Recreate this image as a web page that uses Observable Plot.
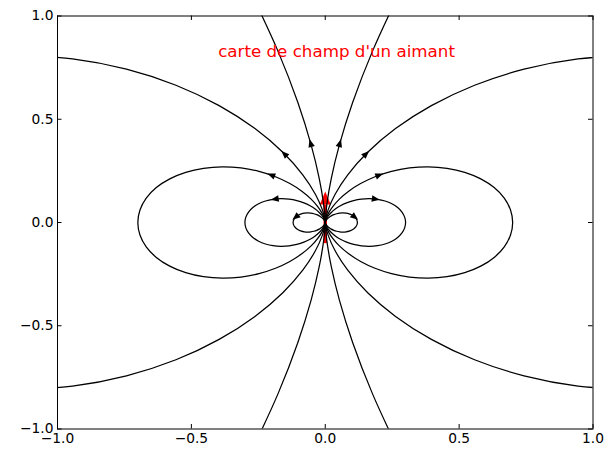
<!DOCTYPE html>
<html><head><meta charset="utf-8">
<script src="https://cdn.jsdelivr.net/npm/d3@7"></script>
<script src="https://cdn.jsdelivr.net/npm/@observablehq/plot@0.6"></script>
<style>html,body{margin:0;padding:0;background:#fff;}</style>
</head><body><div id="chart"></div>
<script>
// ---- data ----
const xTicks = [-1, -0.5, 0, 0.5, 1];
const yTicks = [-1, -0.5, 0, 0.5, 1];
const titleText = "carte de champ d'un aimant";
const titleX = [-0.4];
const titleY = [0.8];
const magnetX = [0, 0];
const magnetY = [-0.1, 0.15];

// field lines: upper-right quarter of each, from the magnet outwards [x, y]
const line1 = [[0,0],[0.0001,0.0009],[0.0006,0.0036],[0.0021,0.0078],[0.0048,0.0132],[0.0091,0.0194],[0.0150,0.0260],[0.0226,0.0323],[0.0319,0.0380],[0.0424,0.0424],[0.0539,0.0453],[0.0660,0.0462],[0.0779,0.0450],[0.0893,0.0417],[0.0996,0.0362],[0.1081,0.0290],[0.1146,0.0202],[0.1186,0.0104],[0.12,0]];
const line2 = [[0,0],[0.0002,0.0023],[0.0016,0.0089],[0.0052,0.0194],[0.0120,0.0330],[0.0226,0.0486],[0.0375,0.0650],[0.0566,0.0808],[0.0797,0.0950],[0.1061,0.1061],[0.1349,0.1132],[0.1649,0.1155],[0.1949,0.1125],[0.2233,0.1041],[0.2489,0.0906],[0.2704,0.0724],[0.2865,0.0505],[0.2966,0.0259],[0.3,0]];
const line3 = [[0,0],[0.0005,0.0053],[0.0037,0.0208],[0.0121,0.0453],[0.0280,0.0769],[0.0528,0.1133],[0.0875,0.1516],[0.1321,0.1886],[0.1859,0.2216],[0.2475,0.2475],[0.3147,0.2640],[0.3848,0.2694],[0.4547,0.2625],[0.5211,0.2430],[0.5808,0.2114],[0.6309,0.1690],[0.6686,0.1179],[0.6920,0.0605],[0.7,0]];
const line4 = [[0,0],[0.0014,0.0159],[0.0110,0.0624],[0.0364,0.1359],[0.0840,0.2308],[0.1585,0.3399],[0.2625,0.4547],[0.3963,0.5659],[0.5577,0.6647],[0.7425,0.7425],[0.9440,0.7921],[1.1543,0.8083]];
const line5 = [[0,0],[0.0008,0.0239],[0.0067,0.0951],[0.0224,0.2130],[0.0528,0.3759],[0.1026,0.5820],[0.1762,0.8287],[0.2775,1.1130]];
const lineClosed = [true, true, true, false, false];

// arrowheads (upper-right; mirrored to the left)
const arrowLine = [0, 1, 2, 3, 4];
const arrowX = [0.1110, 0.1889, 0.2024, 0.1532, 0.0548];
const arrowY = [0.0256, 0.1135, 0.2296, 0.3331, 0.3852];

// ---- layout ----
const W = 610, H = 449;
const mL = 57, mR = 17.5, mT = 15.5, mB = 20.5;
const innerW = W - mL - mR, innerH = H - mT - mB;
const kx = innerW / 2, ky = innerH / 2; // px per data unit
const tickLen = 4.5;

const quarters = [line1, line2, line3, line4, line5];
const rows = [];
quarters.forEach((q, i) => {
  for (const sx of [1, -1]) {
    const upper = q.map(([x, y]) => [sx * x, y]);
    const lower = q.slice().reverse().map(([x, y]) => [sx * x, -y]);
    const pts = lineClosed[i] ? upper.concat(lower.slice(1)) : upper.concat([[NaN, NaN]], lower);
    pts.forEach(([x, y]) => rows.push({x, y, id: i + "_" + sx}));
  }
});

const arrows = [];
arrowLine.forEach((li, k) => {
  const q = quarters[li];
  let best = 0, bd = Infinity;
  q.forEach(([x, y], j) => {
    const d = (x - arrowX[k]) ** 2 + (y - arrowY[k]) ** 2;
    if (d < bd) { bd = d; best = j; }
  });
  const a = q[Math.max(best - 1, 0)], b = q[Math.min(best + 1, q.length - 1)];
  const tx = b[0] - a[0], ty = b[1] - a[1];
  for (const sx of [1, -1]) {
    const ang = Math.atan2(sx * tx * kx, ty * ky) * 180 / Math.PI;
    arrows.push({x: sx * arrowX[k], y: arrowY[k], angle: ang});
  }
});

const arrowW = 6.5, arrowL = 8;
const fieldHead = {draw(ctx) {
  ctx.moveTo(0, -arrowL / 2);
  ctx.lineTo(arrowW / 2, arrowL / 2);
  ctx.lineTo(-arrowW / 2, arrowL / 2);
  ctx.closePath();
}};
const headW = 11, headL = 13;
const magnetHead = {draw(ctx) {
  ctx.moveTo(0, 0);
  ctx.lineTo(headW / 2, headL);
  ctx.lineTo(-headW / 2, headL);
  ctx.closePath();
}};

const shaft = [
  {x: magnetX[0], y: magnetY[0]},
  {x: magnetX[1], y: magnetY[1] - headL / ky}
];
const tip = [{x: magnetX[1], y: magnetY[1]}];

const chart = Plot.plot({
  width: W, height: H,
  marginLeft: mL, marginRight: mR, marginTop: mT, marginBottom: mB,
  style: {fontFamily: "DejaVu Sans", fontSize: "13.8px", color: "black", background: "white"},
  x: {domain: [-1, 1], ticks: xTicks, tickSize: 0, tickPadding: 4, tickFormat: ".1f", label: null},
  y: {domain: [-1, 1], ticks: yTicks, tickSize: 0, tickPadding: 4, tickFormat: ".1f", label: null},
  marks: [
    Plot.line(shaft, {x: "x", y: "y", stroke: "red", strokeWidth: 3.5, strokeLinecap: "butt"}),
    Plot.dot(tip, {x: "x", y: "y", symbol: magnetHead, fill: "red", stroke: "none", r: 5}),
    Plot.line(rows, {x: "x", y: "y", z: "id", stroke: "black", strokeWidth: 1.25, curve: "catmull-rom", clip: true}),
    Plot.dot(arrows, {x: "x", y: "y", rotate: "angle", symbol: fieldHead, fill: "black", stroke: "none", r: 4}),
    Plot.text([titleText], {x: () => titleX[0], y: () => titleY[0], text: d => d, textAnchor: "start", lineAnchor: "bottom", fill: "red", fontSize: 16.7}),
    Plot.ruleX(xTicks, {x: d => d, insetTop: innerH - tickLen, stroke: "black"}),
    Plot.ruleX(xTicks, {x: d => d, insetBottom: innerH - tickLen, stroke: "black"}),
    Plot.ruleY(yTicks, {y: d => d, insetRight: innerW - tickLen, stroke: "black"}),
    Plot.ruleY(yTicks, {y: d => d, insetLeft: innerW - tickLen, stroke: "black"}),
    Plot.frame({stroke: "black", strokeWidth: 1})
  ]
});
document.getElementById("chart").appendChild(chart);
</script>
</body></html>
